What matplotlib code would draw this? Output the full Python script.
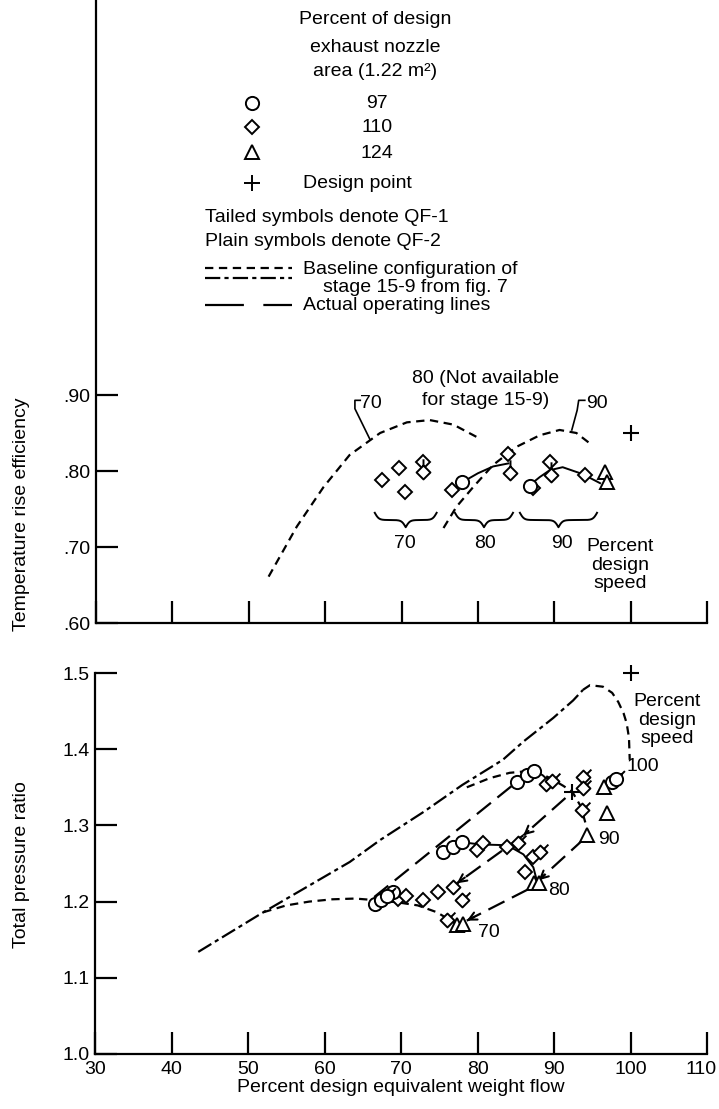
import numpy as np
import matplotlib
matplotlib.use('Agg')
import matplotlib.pyplot as plt
import matplotlib.transforms as mtransforms
from matplotlib.path import Path
from matplotlib.lines import Line2D

plt.rcParams['font.family'] = ['Liberation Sans', 'DejaVu Sans']
plt.rcParams['lines.scale_dashes'] = False

W, H = 719, 1109
FS = 14

# ---------------- top panel: temperature rise efficiency ----------------
eff_circle_x = [77.9, 86.8]
eff_circle_y = [0.785, 0.780]
eff_diamond_x = [67.4, 69.7, 70.5, 72.8, 76.6, 84.0, 87.2, 89.4, 94.0]
eff_diamond_y = [0.788, 0.804, 0.773, 0.812, 0.775, 0.823, 0.777, 0.812, 0.795]
eff_diamond_tail_x = [72.8, 84.2, 89.6]
eff_diamond_tail_y = [0.799, 0.797, 0.795]
eff_triangle_x = [96.6, 96.9]
eff_triangle_y = [0.799, 0.786]
eff_design_x = [100.0]
eff_design_y = [0.85]

eff_base70_x = [52.6, 56.3, 59.8, 63.2, 67.2, 70.7, 73.7, 76.8, 79.8]
eff_base70_y = [0.661, 0.727, 0.779, 0.821, 0.850, 0.864, 0.867, 0.861, 0.845]
eff_base90_x = [75.5, 77.2, 79.4, 82.0, 85.1, 88.1, 90.7, 92.9, 94.7]
eff_base90_y = [0.725, 0.753, 0.779, 0.808, 0.832, 0.847, 0.854, 0.850, 0.836]
eff_qf80_x = [77.4, 80.0, 82.0, 84.0]
eff_qf80_y = [0.782, 0.797, 0.806, 0.810]
eff_qf90_x = [86.5, 88.1, 89.4, 91.1, 93.7, 96.0]
eff_qf90_y = [0.779, 0.792, 0.801, 0.805, 0.796, 0.784]

brace_speeds = ['70', '80', '90']
brace_x0 = [66.5, 77.0, 85.5]
brace_x1 = [74.6, 84.6, 95.6]
brace_label_x = [70.4, 80.9, 91.0]

# ---------------- bottom panel: total pressure ratio ----------------
pr_circle_x = [75.5, 76.8, 78.0, 85.2, 86.5, 87.4, 68.9]
pr_circle_y = [1.265, 1.272, 1.278, 1.357, 1.366, 1.371, 1.213]
pr_circle_tail_x = [66.6, 67.4, 68.2, 97.6, 98.1]
pr_circle_tail_y = [1.197, 1.202, 1.207, 1.357, 1.361]
pr_diamond_x = [69.6, 70.6, 72.9, 74.8, 79.9, 80.7, 83.9, 86.2, 87.3]
pr_diamond_y = [1.203, 1.207, 1.202, 1.213, 1.268, 1.277, 1.272, 1.239, 1.259]
pr_diamond_tail_x = [76.0, 76.8, 78.0, 85.3, 88.2, 89.0, 89.7, 93.8, 93.8, 93.7]
pr_diamond_tail_y = [1.176, 1.219, 1.202, 1.277, 1.265, 1.354, 1.358, 1.364, 1.349, 1.320]
pr_triangle_x = [77.3, 78.1, 87.4, 88.1, 94.3, 96.9, 96.5]
pr_triangle_y = [1.169, 1.170, 1.224, 1.224, 1.287, 1.316, 1.350]
pr_design_x = [100.0]
pr_design_y = [1.5]
pr_cross_x = [92.4]
pr_cross_y = [1.344]

pr_surge_x = [43.5, 52.0, 63.3, 67.3, 73.0, 78.0, 83.3, 86.0, 89.9, 92.5, 93.8]
pr_surge_y = [1.134, 1.186, 1.252, 1.281, 1.318, 1.353, 1.386, 1.410, 1.441, 1.464, 1.478]
pr_base100_x = [93.8, 94.7, 96.4, 97.6, 98.4, 99.1, 99.5, 99.8, 99.9]
pr_base100_y = [1.478, 1.484, 1.482, 1.474, 1.462, 1.447, 1.434, 1.415, 1.386]
pr_base70_x = [52.0, 55.0, 58.0, 61.0, 64.0, 66.5, 69.6, 72.2, 74.7, 77.0]
pr_base70_y = [1.186, 1.195, 1.200, 1.203, 1.204, 1.202, 1.199, 1.195, 1.186, 1.172]
pr_base90_x = [78.6, 81.6, 84.2, 87.4, 89.5, 91.2, 92.4, 93.5, 94.2]
pr_base90_y = [1.350, 1.362, 1.369, 1.372, 1.362, 1.352, 1.344, 1.325, 1.300]
pr_qf80_x = [78.0, 80.3, 83.9, 86.0, 87.3, 87.8]
pr_qf80_y = [1.278, 1.275, 1.274, 1.262, 1.245, 1.226]
pr_qf90_x = [87.4, 88.5, 89.5]
pr_qf90_y = [1.371, 1.366, 1.357]

# actual operating lines: start/end of each dashed run, arrow at the end
op_x0 = [66.5, 91.5, 86.0, 94.0, 86.6]
op_y0 = [1.206, 1.336, 1.287, 1.283, 1.216]
op_x1 = [85.0, 86.0, 77.3, 88.0, 78.6]
op_y1 = [1.356, 1.287, 1.224, 1.228, 1.175]
op_arrow = [False, True, True, True, True]

speed_labels = ['70', '80', '90', '100']
speed_label_x = [80.1, 89.2, 95.8, 99.5]
speed_label_y = [1.160, 1.215, 1.281, 1.377]

DASH_BASE = (6, 4)
DASH_SURGE = (11, 3, 3, 3)
DASH_OP = (13, 6)
LW = 1.6


def fx(px):
    return px / W


def fy(py):
    return 1 - py / H


def tailed_marker(base, angle=45, length=0.9, half=5.0):
    a = np.deg2rad(angle)
    if base == 'D':
        body = Path([(0, 1), (1, 0), (0, -1), (-1, 0), (0, 1)],
                    [Path.MOVETO, Path.LINETO, Path.LINETO, Path.LINETO, Path.CLOSEPOLY])
        r = 1 / (abs(np.cos(a)) + abs(np.sin(a)))
    elif base == 'o':
        body = Path.unit_circle()
        r = 1.0
    else:
        body = Path([(0, 1), (-0.95, -0.65), (0.95, -0.65), (0, 1)],
                    [Path.MOVETO, Path.LINETO, Path.LINETO, Path.CLOSEPOLY])
        r = 0.6
    tail = Path([(r * np.cos(a), r * np.sin(a)),
                 ((r + length) * np.cos(a), (r + length) * np.sin(a))],
                [Path.MOVETO, Path.LINETO])
    path = Path.make_compound_path(body, tail)
    rescale = np.max(np.abs(path.vertices))
    return path, 2 * half * rescale


def sym(ax, x, y, marker, ms, **kw):
    ax.plot(x, y, ls='none', marker=marker, ms=ms, mfc='white', mec='black',
            mew=1.4, zorder=5, clip_on=False, **kw)


def brace(ax, x0, x1, ytop, depth):
    xa, xb = ax.get_xlim()
    span = xb - xa
    n = 201
    beta = 300.0 / span
    x = np.linspace(x0, x1, n)
    xh = x[:n // 2 + 1]
    yh = 1 / (1 + np.exp(-beta * (xh - xh[0]))) + 1 / (1 + np.exp(-beta * (xh - xh[-1])))
    yb = np.concatenate((yh, yh[-2::-1]))
    ax.plot(x, ytop - (yb - 0.5) * depth, color='black', lw=1.4)


def style_axis(ax):
    for s in ['top', 'right']:
        ax.spines[s].set_visible(False)
    for s in ['left', 'bottom']:
        ax.spines[s].set_linewidth(1.6)
    ax.tick_params(direction='in', length=16, width=1.6, labelsize=FS)


fig = plt.figure(figsize=(W / 100, H / 100), dpi=100)
fig.patch.set_facecolor('white')

# ---------------- top axes ----------------
ax1 = fig.add_axes([fx(96), fy(623), fx(707) - fx(96), fy(0) - fy(623)])
style_axis(ax1)
ax1.set_xlim(30, 110)
ax1.set_ylim(0.60, 0.60 + 623 / 760.0)
ax1.set_xticks(np.arange(30, 111, 10))
ax1.set_xticklabels([])
ax1.set_yticks([0.60, 0.70, 0.80, 0.90])
ax1.set_yticklabels(['.60', '.70', '.80', '.90'])
ax1.tick_params(axis='y', pad=4)

ax1.plot(eff_base70_x, eff_base70_y, color='black', lw=LW, dashes=DASH_BASE)
ax1.plot(eff_base90_x, eff_base90_y, color='black', lw=LW, dashes=DASH_BASE)
ax1.plot(eff_qf80_x, eff_qf80_y, color='black', lw=1.4)
ax1.plot(eff_qf90_x, eff_qf90_y, color='black', lw=1.4)

dtail, dtail_ms = tailed_marker('D', angle=90, length=0.9)
sym(ax1, eff_diamond_x, eff_diamond_y, 'D', 7)
sym(ax1, eff_diamond_tail_x, eff_diamond_tail_y, dtail, dtail_ms)
sym(ax1, eff_circle_x, eff_circle_y, 'o', 9.5)
sym(ax1, eff_triangle_x, eff_triangle_y, '^', 10)
ax1.plot(eff_design_x, eff_design_y, ls='none', marker='+', ms=12, mew=1.5, color='black')

for lab, x0, x1, lx in zip(brace_speeds, brace_x0, brace_x1, brace_label_x):
    brace(ax1, x0, x1, 0.745, 0.019)
    ax1.text(lx, 0.705, lab, ha='center', va='center', fontsize=FS)
ax1.text(98.6, 0.676, 'Percent\ndesign\nspeed', ha='center', va='center',
         fontsize=FS, linespacing=1.1)

ax1.text(81.0, 0.922, '80 (Not available', ha='center', va='center', fontsize=FS)
ax1.text(81.0, 0.893, 'for stage 15-9)', ha='center', va='center', fontsize=FS)
ax1.text(64.6, 0.889, '70', ha='left', va='center', fontsize=FS)
ax1.plot([64.6, 63.9, 63.9, 65.9], [0.893, 0.893, 0.882, 0.841], color='black', lw=1.2)
ax1.text(94.2, 0.889, '90', ha='left', va='center', fontsize=FS)
ax1.plot([94.0, 93.2, 93.0, 92.3], [0.893, 0.893, 0.880, 0.854], color='black', lw=1.2)

# ---------------- bottom axes ----------------
ax2 = fig.add_axes([fx(95), fy(1054), fx(707) - fx(95), fy(673) - fy(1054)])
style_axis(ax2)
ax2.set_xlim(30, 110)
ax2.set_ylim(1.0, 1.5)
ax2.set_xticks(np.arange(30, 111, 10))
ax2.set_yticks([1.0, 1.1, 1.2, 1.3, 1.4, 1.5])
ax2.set_yticklabels(['1.0', '1.1', '1.2', '1.3', '1.4', '1.5'])
ax2.tick_params(axis='x', pad=5)
ax2.tick_params(axis='y', pad=4)
ax2.set_xlabel('Percent design equivalent weight flow', fontsize=FS, labelpad=1)

# keep the last x label inside the picture
last = ax2.get_xticklabels()[-1]
last.set_horizontalalignment('right')
last.set_transform(last.get_transform() +
                   mtransforms.ScaledTranslation(10 / 100, 0, fig.dpi_scale_trans))

ax2.plot(pr_surge_x, pr_surge_y, color='black', lw=LW, dashes=DASH_SURGE)
ax2.plot(pr_base100_x, pr_base100_y, color='black', lw=LW, dashes=DASH_BASE)
ax2.plot(pr_base70_x, pr_base70_y, color='black', lw=LW, dashes=DASH_BASE)
ax2.plot(pr_base90_x, pr_base90_y, color='black', lw=LW, dashes=DASH_BASE)
ax2.plot(pr_qf80_x, pr_qf80_y, color='black', lw=1.4)
ax2.plot(pr_qf90_x, pr_qf90_y, color='black', lw=1.4)

for x0, y0, x1, y1, arr in zip(op_x0, op_y0, op_x1, op_y1, op_arrow):
    ax2.plot([x0, x1], [y0, y1], color='black', lw=LW, dashes=DASH_OP)
    if arr:
        ax2.annotate('', xy=(x1, y1), xytext=(x1 + 0.12 * (x0 - x1), y1 + 0.12 * (y0 - y1)),
                     arrowprops=dict(arrowstyle='->', lw=1.5, color='black',
                                     mutation_scale=14, shrinkA=0, shrinkB=0))

dtail45, dtail45_ms = tailed_marker('D', angle=45, length=0.9)
otail45, otail45_ms = tailed_marker('o', angle=45, length=0.8, half=4.75)
sym(ax2, pr_diamond_x, pr_diamond_y, 'D', 7)
sym(ax2, pr_diamond_tail_x, pr_diamond_tail_y, dtail45, dtail45_ms)
sym(ax2, pr_circle_x, pr_circle_y, 'o', 9.5)
sym(ax2, pr_circle_tail_x, pr_circle_tail_y, otail45, otail45_ms)
sym(ax2, pr_triangle_x, pr_triangle_y, '^', 10)
ax2.plot(pr_cross_x, pr_cross_y, ls='none', marker='+', ms=11, mew=1.5, color='black', zorder=6)
ax2.plot(pr_design_x, pr_design_y, ls='none', marker='+', ms=12, mew=1.5, color='black',
         clip_on=False)

for lab, lx, ly in zip(speed_labels, speed_label_x, speed_label_y):
    ax2.text(lx, ly, lab, ha='left', va='center', fontsize=FS)
ax2.text(104.8, 1.438, 'Percent\ndesign\nspeed', ha='center', va='center',
         fontsize=FS, linespacing=1.1)

# ---------------- axis titles ----------------
fig.text(fx(22), fy(514), 'Temperature rise efficiency', rotation=90,
         ha='center', va='center', fontsize=FS)
fig.text(fx(22), fy(865), 'Total pressure ratio', rotation=90,
         ha='center', va='center', fontsize=FS)

# ---------------- key ----------------
for txt, py in zip(['Percent of design', 'exhaust nozzle', 'area (1.22 m²)'], [20, 47, 72]):
    fig.text(fx(375), fy(py), txt, ha='center', va='center', fontsize=FS)

key_markers = ['o', 'D', '^', '+']
key_ms = [9.5, 7, 10, 12]
key_py = [103, 127, 152, 183]
for m, ms, py in zip(key_markers, key_ms, key_py):
    fig.add_artist(Line2D([fx(252)], [fy(py)], ls='none', marker=m, ms=ms,
                          mfc='white', mec='black', mew=1.4, color='black',
                          transform=fig.transFigure))
for txt, py in zip(['97', '110', '124'], [103, 127, 153]):
    fig.text(fx(377), fy(py), txt, ha='center', va='center', fontsize=FS)
fig.text(fx(303), fy(183), 'Design point', ha='left', va='center', fontsize=FS)
fig.text(fx(205), fy(217), 'Tailed symbols denote QF-1', ha='left', va='center', fontsize=FS)
fig.text(fx(205), fy(242), 'Plain symbols denote QF-2', ha='left', va='center', fontsize=FS)

fig.add_artist(Line2D([fx(205), fx(292)], [fy(268), fy(268)], color='black', lw=LW,
                      dashes=DASH_BASE, transform=fig.transFigure))
fig.add_artist(Line2D([fx(205), fx(292)], [fy(278), fy(278)], color='black', lw=LW,
                      dashes=DASH_SURGE, transform=fig.transFigure))
fig.text(fx(303), fy(270), 'Baseline configuration of', ha='left', va='center', fontsize=FS)
fig.text(fx(323), fy(288), 'stage 15-9 from fig. 7', ha='left', va='center', fontsize=FS)
fig.add_artist(Line2D([fx(205), fx(292)], [fy(305), fy(305)], color='black', lw=LW,
                      dashes=(28, 14), transform=fig.transFigure))
fig.text(fx(303), fy(306), 'Actual operating lines', ha='left', va='center', fontsize=FS)

fig.savefig('out.png', dpi=100)
